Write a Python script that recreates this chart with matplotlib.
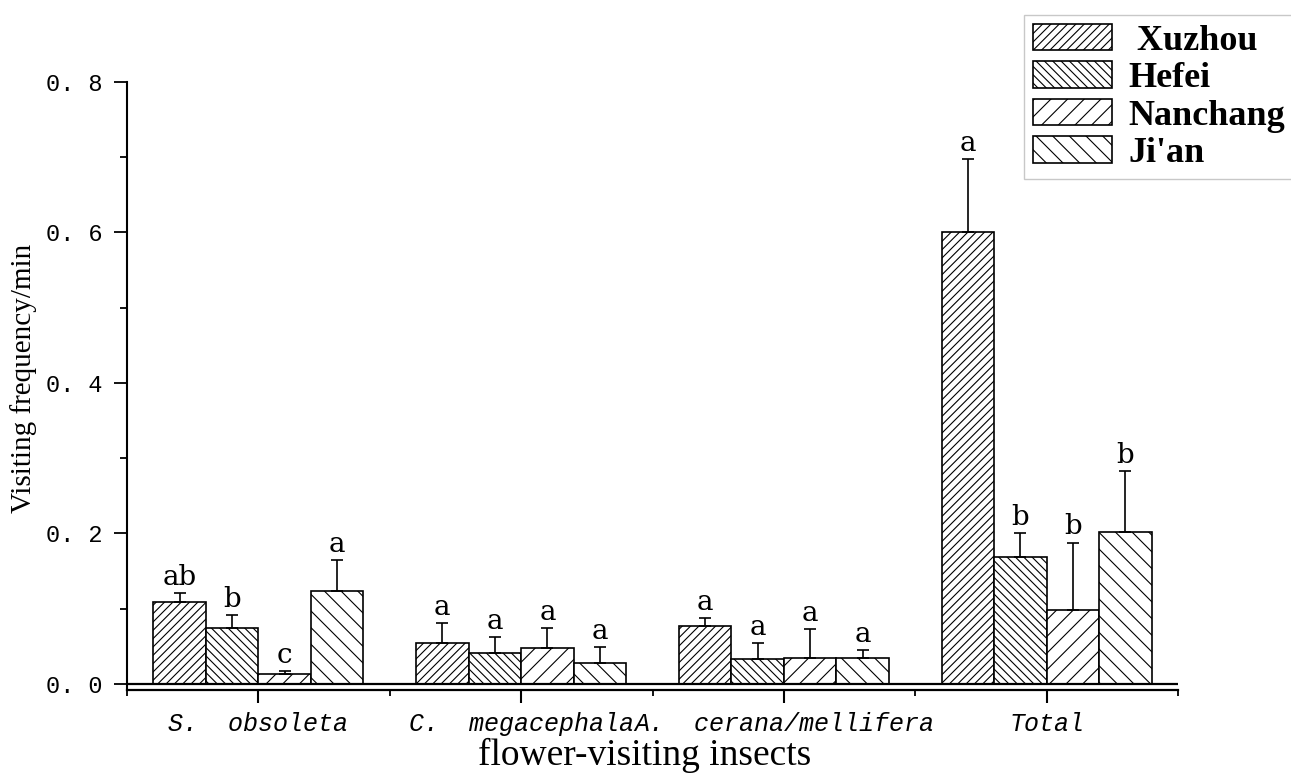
import numpy as np
import matplotlib
matplotlib.use('Agg')
import matplotlib.pyplot as plt
from matplotlib.ticker import FixedLocator, FuncFormatter

# Data
categories = ['S.  obsoleta', 'C.  megacephala', 'A.  cerana/mellifera', 'Total']
sites = ['Xuzhou', 'Hefei', 'Nanchang', "Ji'an"]

xuzhou = [0.109, 0.055, 0.077, 0.601]
hefei = [0.075, 0.041, 0.033, 0.169]
nanchang = [0.013, 0.048, 0.035, 0.098]
jian = [0.124, 0.028, 0.035, 0.202]

xuzhou_err = [0.012, 0.026, 0.011, 0.097]
hefei_err = [0.017, 0.021, 0.021, 0.031]
nanchang_err = [0.004, 0.026, 0.038, 0.090]
jian_err = [0.041, 0.021, 0.010, 0.081]

xuzhou_sig = ['ab', 'a', 'a', 'a']
hefei_sig = ['b', 'a', 'a', 'b']
nanchang_sig = ['c', 'a', 'a', 'b']
jian_sig = ['a', 'a', 'a', 'b']

means = [xuzhou, hefei, nanchang, jian]
errs = [xuzhou_err, hefei_err, nanchang_err, jian_err]
sigs = [xuzhou_sig, hefei_sig, nanchang_sig, jian_sig]
hatches = ['////', '\\\\\\\\', '//', '\\\\']

plt.rcParams['hatch.linewidth'] = 0.8

fig = plt.figure(figsize=(12.91, 7.75), dpi=100)
ax = fig.add_axes([127 / 1291, 85 / 775, (1178 - 127) / 1291, (690 - 82) / 775])

x = np.arange(len(categories))
width = 0.2
offsets = [-0.3, -0.1, 0.1, 0.3]

handles = []
for i in range(len(sites)):
    pos = x + offsets[i]
    b = ax.bar(pos, means[i], width, color='white', edgecolor='black',
               linewidth=1.2, hatch=hatches[i], label=sites[i], zorder=2)
    handles.append(b)
    ax.errorbar(pos, means[i], yerr=[np.zeros(len(x)), errs[i]], fmt='none',
                ecolor='black', elinewidth=1.2, capsize=4.3, capthick=1.2,
                zorder=3)
    for j in range(len(x)):
        ax.annotate(sigs[i][j], (pos[j], means[i][j] + errs[i][j]),
                    xytext=(0, 1.5), textcoords='offset points',
                    ha='center', va='bottom', fontsize=20,
                    family='DejaVu Serif')

# baseline at zero, axis line sits slightly below
ax.axhline(0, color='black', linewidth=1.6, zorder=4)
ax.set_xlim(-0.5, 3.5)
ax.set_ylim(-0.008, 0.8)

ax.spines['top'].set_visible(False)
ax.spines['right'].set_visible(False)
ax.spines['left'].set_linewidth(1.5)
ax.spines['bottom'].set_linewidth(1.6)

ax.yaxis.set_major_locator(FixedLocator([0.0, 0.2, 0.4, 0.6, 0.8]))
ax.yaxis.set_minor_locator(FixedLocator([0.1, 0.3, 0.5, 0.7]))
ax.yaxis.set_major_formatter(FuncFormatter(lambda v, p: f'{v:.1f}'.replace('.', '. ')))
ax.tick_params(axis='y', which='major', direction='out', length=9.5, width=1.3,
               pad=8, labelsize=17)
ax.tick_params(axis='y', which='minor', direction='out', length=5, width=1.3)
for lab in ax.get_yticklabels():
    lab.set_family('Liberation Mono')

ax.set_xticks(x)
ax.set_xticklabels(categories, family='Liberation Mono', style='italic',
                   fontsize=18)
ax.xaxis.set_minor_locator(FixedLocator([-0.5, 0.5, 1.5, 2.5, 3.5]))
ax.tick_params(axis='x', which='major', direction='out', length=9.5, width=1.5,
               pad=6)
ax.tick_params(axis='x', which='minor', direction='out', length=4, width=1.3)

fig.text(24 / 1291, 1 - 378 / 775, 'Visiting frequency/min', rotation=90,
         ha='center', va='center', fontsize=21, family='Liberation Serif')
fig.text(645 / 1291, 10 / 775, 'flower-visiting insects', ha='center',
         va='baseline', fontsize=27, family='Liberation Serif')

leg_labels = [' Xuzhou', 'Hefei', 'Nanchang', "Ji'an"]
leg = fig.legend(handles, leg_labels, loc='upper left',
                 bbox_to_anchor=(1024 / 1291, 1 - 15 / 775),
                 borderaxespad=0, fancybox=False, frameon=True,
                 handlelength=2.2, handleheight=0.75, handletextpad=0.44,
                 labelspacing=0.1, borderpad=0.25,
                 prop={'family': 'Liberation Serif', 'weight': 'bold', 'size': 26})
leg.get_frame().set_edgecolor('#bbbbbb')
leg.get_frame().set_linewidth(1.0)

fig.savefig('out.png', dpi=100, facecolor='white')
